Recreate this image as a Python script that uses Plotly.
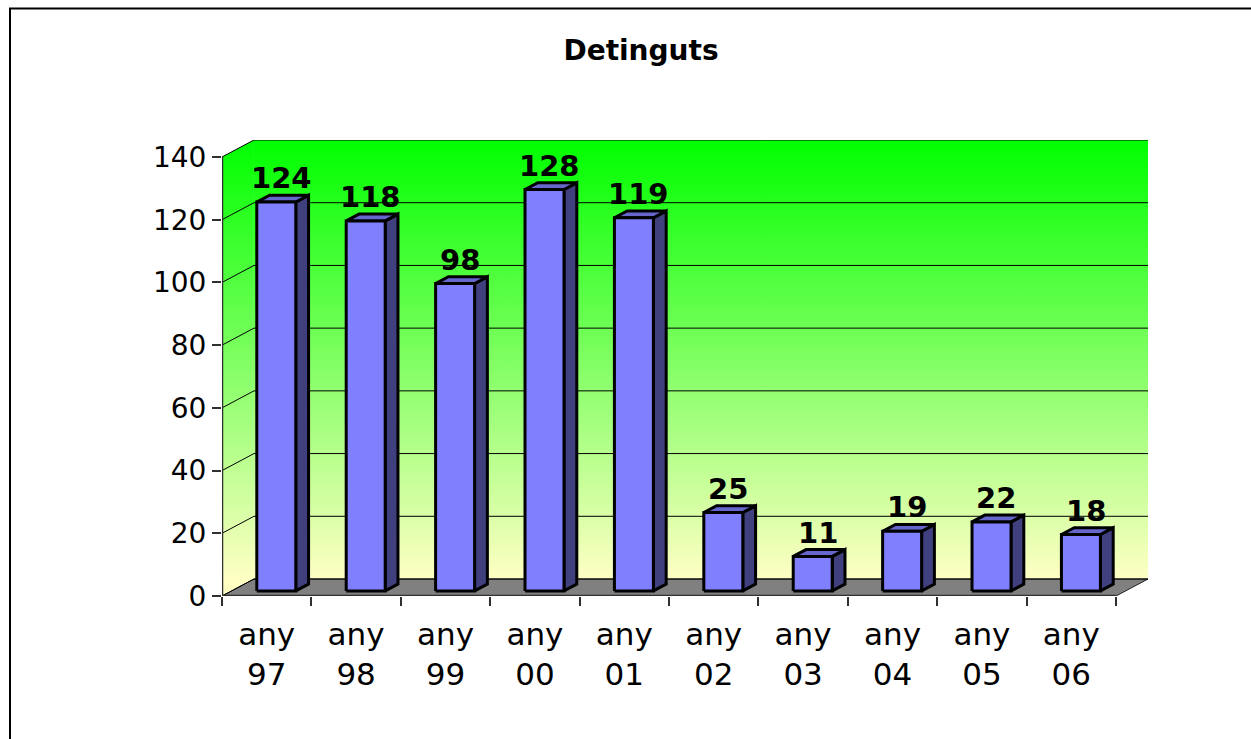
import plotly.graph_objects as go

# ---- data ----
categories = ["any 97", "any 98", "any 99", "any 00", "any 01",
              "any 02", "any 03", "any 04", "any 05", "any 06"]
values = [124, 118, 98, 128, 119, 25, 11, 19, 22, 18]
y_ticks = [0, 20, 40, 60, 80, 100, 120, 140]
title_text = "Detinguts"

# ---- 3D projection parameters (depth offsets in axis units) ----
N = len(categories)
YMAX = 140
DX = 0.3575   # horizontal depth shift (category units)
DY = 5.42     # vertical depth shift (value units)
D0, D1 = 0.3, 0.7       # bar front/back depth fraction
BW = 0.436              # bar width

W, H = 1251, 739
L_PX, R_PX = 222, 1148
T_PX, B_PX = 140, 596

FONT = "DejaVu Sans, Verdana, Arial, sans-serif"

fig = go.Figure()

def poly(xs, ys, **kw):
    fig.add_trace(go.Scatter(x=xs, y=ys, mode="lines", hoverinfo="skip",
                             showlegend=False, **kw))

grad = dict(type="vertical", colorscale=[[0, "#FFFFC4"], [1, "#00FF00"]],
            start=DY, stop=YMAX + DY)

# left side wall
poly([0, DX, DX, 0, 0], [0, DY, YMAX + DY, YMAX, 0], fill="toself",
     fillgradient=grad, line=dict(width=0))
# back wall
poly([DX, N + DX, N + DX, DX, DX], [DY, DY, YMAX + DY, YMAX + DY, DY],
     fill="toself", fillgradient=grad, line=dict(width=0))
# floor
poly([0, N, N + DX, DX, 0], [0, 0, DY, DY, 0], fill="toself",
     fillcolor="#808080", line=dict(color="#202020", width=1))

# gridlines on walls
gx, gy = [], []
for v in y_ticks:
    gx += [0, DX, N + DX, None]
    gy += [v, v + DY, v + DY, None]
poly(gx, gy, line=dict(color="#000000", width=1))

# front axis lines
poly([0, 0], [0, YMAX], line=dict(color="#303030", width=2.5))
poly([0, N], [0, 0], line=dict(color="#303030", width=2.5))

# bars
fx, fy, sx, sy, tx, ty = [], [], [], [], [], []
for i, v in enumerate(values):
    xl = i + 0.5 - BW / 2
    xr = i + 0.5 + BW / 2
    a0x, a0y = D0 * DX, D0 * DY
    a1x, a1y = D1 * DX, D1 * DY
    fx += [xl + a0x, xr + a0x, xr + a0x, xl + a0x, xl + a0x, None]
    fy += [a0y, a0y, v + a0y, v + a0y, a0y, None]
    sx += [xr + a0x, xr + a1x, xr + a1x, xr + a0x, xr + a0x, None]
    sy += [a0y, a1y, v + a1y, v + a0y, a0y, None]
    tx += [xl + a0x, xr + a0x, xr + a1x, xl + a1x, xl + a0x, None]
    ty += [v + a0y, v + a0y, v + a1y, v + a1y, v + a0y, None]

edge = dict(color="#000000", width=3)
poly(sx, sy, fill="toself", fillcolor="#40407F", line=edge)
poly(tx, ty, fill="toself", fillcolor="#6666CC", line=edge)
poly(fx, fy, fill="toself", fillcolor="#8080FF", line=edge)

# value labels
for i, v in enumerate(values):
    fig.add_annotation(x=i + 0.5 + 0.45 * DX, y=v + DY, text=str(v),
                       showarrow=False, yanchor="bottom", yshift=-7,
                       font=dict(family=FONT, size=29, color="#000000",
                                 weight="bold"))

# outer chart border
pw = R_PX - L_PX
ph = B_PX - T_PX
fig.add_shape(type="rect", xref="paper", yref="paper",
              x0=(10 - L_PX) / pw, x1=(W + 20 - L_PX) / pw,
              y0=(B_PX - (H + 20)) / ph, y1=(B_PX - 8.5) / ph,
              line=dict(color="#000000", width=2), fillcolor="rgba(0,0,0,0)",
              layer="above")

tick_text = [c.replace(" ", "<br>") for c in categories]

fig.update_layout(
    width=W, height=H,
    margin=dict(l=L_PX, r=W - R_PX, t=T_PX, b=H - B_PX, pad=0),
    paper_bgcolor="#FFFFFF", plot_bgcolor="rgba(0,0,0,0)",
    showlegend=False,
    title=dict(text=title_text, xref="container", yref="container",
               x=641 / W, y=1 - 50 / H, xanchor="center", yanchor="middle",
               font=dict(family=FONT, size=28, color="#000000", weight="bold")),
    xaxis=dict(range=[0, N + DX], showgrid=False, zeroline=False,
               showline=False,
               tickmode="array", tickvals=[i + 0.5 for i in range(N)],
               ticktext=tick_text, ticks="",
               ticklabelstandoff=17,
               tickfont=dict(family=FONT, size=31, color="#000000"),
               minor=dict(tickmode="array", tickvals=list(range(N + 1)),
                          ticks="outside", ticklen=9, tickcolor="#303030",
                          tickwidth=1.5, showgrid=False)),
    yaxis=dict(range=[0, YMAX + DY], showgrid=False, zeroline=False,
               showline=False,
               tickmode="array", tickvals=y_ticks,
               ticks="outside", ticklen=9, tickcolor="#303030", tickwidth=1.5,
               tickfont=dict(family=FONT, size=28, color="#000000")),
)

fig.write_html("out.html", config={"displayModeBar": False},
               post_script="document.body.style.margin='0';document.body.style.overflow='hidden';")
